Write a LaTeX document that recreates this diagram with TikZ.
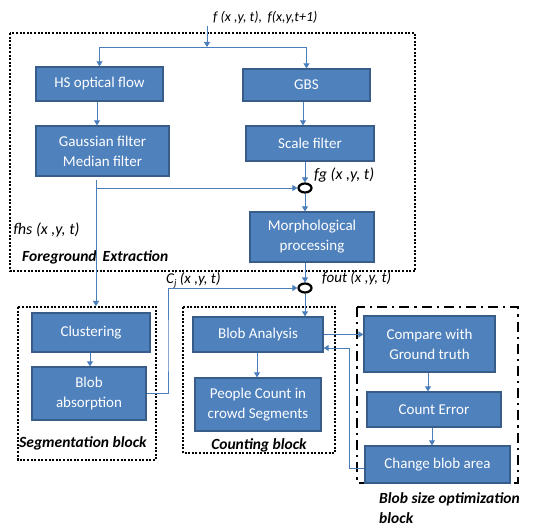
\documentclass[tikz,border=0pt]{standalone}
\usepackage{fontspec}
\setmainfont{Carlito}
\usetikzlibrary{arrows.meta,shapes.geometric,calc}
\definecolor{boxfill}{HTML}{4F81BD}
\definecolor{boxdraw}{HTML}{385D8A}
\definecolor{arrcol}{HTML}{4A7EBB}
\tikzset{
  blk/.style={draw=boxdraw,fill=boxfill,line width=1.3pt,text=white,align=center,
    font=\fontsize{15}{20}\selectfont,inner sep=0pt},
  arr/.style={draw=arrcol,line width=0.9pt,-{Triangle[width=6pt,length=5pt]}},
  junc/.style={ellipse,draw=black,line width=2.2pt,minimum width=13pt,minimum height=9pt,inner sep=0pt},
  dotblk/.style={draw=black,line width=2pt,dash pattern=on 2pt off 1.6pt},
  dashdot/.style={draw=black,line width=2.2pt,dash pattern=on 10pt off 5pt on 2.2pt off 5pt},
  lbl/.style={font=\fontsize{15}{16}\selectfont\itshape,inner sep=0pt},
  blbl/.style={font=\fontsize{15.5}{16}\selectfont\bfseries\itshape,inner sep=0pt},
}
\begin{document}
\begin{tikzpicture}[x=1pt,y=-1pt]
\useasboundingbox (0,0) rectangle (538,529);
% blocks
\draw[dotblk] (10,33) rectangle (415,271);
\draw[dotblk] (18,307) rectangle (156,460);
\draw[dotblk] (183,307) rectangle (335,453);
\draw[dashdot] (357,307) rectangle (518,483);
\coordinate (segtop) at (96,306);
% boxes
\node[blk,minimum width=127pt,minimum height=34pt] (HS) at (99.5,84) {HS optical flow};
\node[blk,minimum width=127pt,minimum height=32pt] (GBS) at (306.5,85) {GBS};
\node[blk,minimum width=133pt,minimum height=50pt] (Gauss) at (102.5,151) {Gaussian filter\\Median filter};
\node[blk,minimum width=128pt,minimum height=35pt] (Scale) at (310,143.5) {Scale filter};
\node[blk,minimum width=124pt,minimum height=50pt] (Morph) at (312,237) {Morphological\\processing};
\node[blk,minimum width=118pt,minimum height=39pt] (Clus) at (91,332.5) {Clustering};
\node[blk,minimum width=114pt,minimum height=53pt] (Babs) at (89,393.5) {Blob\\absorption};
\node[blk,minimum width=130pt,minimum height=35pt] (BA) at (258,334.5) {Blob Analysis};
\node[blk,minimum width=126pt,minimum height=53pt] (PC) at (258,404.5) {People Count in\\crowd Segments};
\node[blk,minimum width=131pt,minimum height=56pt] (Cmp) at (429.5,344) {Compare with\\Ground truth};
\node[blk,minimum width=134pt,minimum height=35pt] (CE) at (434,409.5) {Count Error};
\node[blk,minimum width=145pt,minimum height=37pt] (Chg) at (437.5,464.5) {Change blob area};
% junctions
\node[junc] (fg) at (305,188) {};
\node[junc] (fout) at (305,288) {};
% labels
\node[lbl,anchor=west,font=\fontsize{14}{16}\selectfont\itshape] (lin) at (213,18) {f (x ,y, t),\, f(x,y,t+1)};
\node[lbl,anchor=west,font=\fontsize{16}{16}\selectfont\itshape] (lfg) at (314,175) {fg (x ,y, t)};
\node[lbl,anchor=west,font=\fontsize{16}{16}\selectfont\itshape] (lfhs) at (13,230) {fhs (x ,y, t)};
\node[blbl,anchor=west] (lfe) at (22,257) {Foreground\, Extraction};
\node[lbl,anchor=west] (lcj) at (166,280) {C\rlap{\raisebox{0.8ex}{\fontsize{9}{9}\selectfont '}}\raisebox{-0.4ex}{\fontsize{10}{10}\selectfont j} (x ,y, t)};
\node[lbl,anchor=west] (lfout) at (322,278) {fout (x ,y, t)};
\node[blbl,anchor=west] (lseg) at (19,443) {Segmentation block};
\node[blbl] (lcnt) at (259,445) {Counting block};
\node[blbl,anchor=west] (lbso) at (379,499) {Blob size optimization};
\node[blbl,anchor=west] (lbso2) at (379,518) {block};
% connectors
\coordinate (in) at (207,26);
\coordinate (split) at (207,47);
\draw[arr] (in) -- (split);
\draw[arr] (split) -| (HS.north);
\draw[arr] (split) -| (GBS.north);
\draw[arr] (HS.south -| 97,0) -- (97,0 |- Gauss.north);
\draw[arr] (GBS.south -| 303,0) -- (303,0 |- Scale.north);
\coordinate (gs) at (96,180);
\draw[arr] (gs) -- (segtop);
\draw[arr] (gs |- fg) -- (fg.west);
\draw[arr] (Scale.south -| fg) -- (fg.north);
\draw[arr] (fg.south) -- (fg.south |- Morph.north);
\draw[arr] (Morph.south -| fout) -- (fout.north);
\draw[arr] (fout.south) -- (fout.south |- BA.north);
\coordinate (cjx) at (168,350);
\draw[arr] (Babs.east) -| (cjx) |- (fout.west);
\draw[arr] (Clus.south -| 90,0) -- (90,0 |- Babs.north);
\draw[arr] (BA.south -| 257,0) -- (257,0 |- PC.north);
\draw[arr] (BA.east) -- (BA.east -| Cmp.west);
\draw[arr] (Cmp.south -| 428,0) -- (428,0 |- CE.north);
\draw[arr] (CE.south -| 432,0) -- (432,0 |- Chg.north);
\coordinate (fb) at (349,468);
\draw[arr] (Chg.west |- fb) -- (fb) |- ($(BA.east)+(0,13.5)$);
\end{tikzpicture}
\end{document}
